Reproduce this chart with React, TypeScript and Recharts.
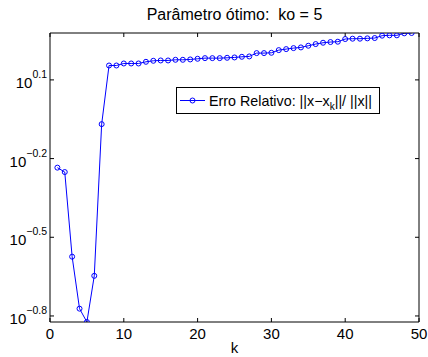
import React from 'react';
import { LineChart, Line, XAxis, YAxis } from 'recharts';

const kValues = [
  1, 2, 3, 4, 5, 6, 7, 8, 9, 10, 11, 12, 13, 14, 15, 16, 17, 18, 19, 20, 21, 22, 23, 24, 25,
  26, 27, 28, 29, 30, 31, 32, 33, 34, 35, 36, 37, 38, 39, 40, 41, 42, 43, 44, 45, 46, 47, 48, 49,
];

const erroRelativo = [
  0.5827, 0.5606, 0.2667, 0.169, 0.1503, 0.2254, 0.8538, 1.4287, 1.4287, 1.4543,
  1.4543, 1.4543, 1.4757, 1.4889, 1.4933, 1.4933, 1.502, 1.502, 1.5065, 1.5155,
  1.5241, 1.5241, 1.5241, 1.5287, 1.5333, 1.5422, 1.5468, 1.5929, 1.5929, 1.5973,
  1.6352, 1.6499, 1.6644, 1.6744, 1.6993, 1.7242, 1.7446, 1.7551, 1.7604, 1.8022,
  1.8076, 1.8076, 1.8131, 1.8181, 1.8562, 1.8617, 1.8617, 1.8946, 1.9003,
];

const xTicks = [0, 10, 20, 30, 40, 50];
const yTickExponents = [-0.8, -0.5, -0.2, 0.1];
const yTicks = yTickExponents.map((e) => Math.pow(10, e));

const titleText = 'Parâmetro ótimo:  ko = 5';
const xLabel = 'k';

const data = kValues.map((k, i) => ({ k, err: erroRelativo[i] }));
const yMin = Math.min(...erroRelativo);
const yMax = Math.max(...erroRelativo);

const FONT = '"Liberation Sans", Arial, Helvetica, sans-serif';
const BLUE = '#0000ff';

const fmtExp = (v: number) => {
  const e = Math.log10(v);
  const s = (Math.round(e * 10) / 10).toFixed(1);
  return s.replace('-', '\u2212');
};

const XTick = (props: any) => {
  const { x, y, payload } = props;
  return (
    <text x={x} y={y + 17} textAnchor="middle" fontSize={15} fontFamily={FONT} fill="#000">
      {payload.value}
    </text>
  );
};

const YTick = (props: any) => {
  const { x, y, payload } = props;
  return (
    <text x={x} y={y + 8} textAnchor="end" fontSize={15} fontFamily={FONT} fill="#000">
      <tspan>10</tspan>
      <tspan dy={-10} fontSize={10.5}>
        {fmtExp(payload.value)}
      </tspan>
    </text>
  );
};

const EmptyTick = () => <g />;

export default function App() {
  return (
    <div style={{ position: 'absolute', left: 0, top: 0, width: 428, height: 357, background: '#fff' }}>
      <LineChart
        width={428}
        height={357}
        data={data}
        margin={{ top: 0, right: 0, bottom: 0, left: 0 }}
      >
        <XAxis
          xAxisId="bottom"
          dataKey="k"
          type="number"
          domain={[0, 50]}
          ticks={xTicks}
          allowDataOverflow
          height={35}
          tickSize={-4}
          tickMargin={4}
          stroke="#000"
          tick={<XTick />}
        />
        <XAxis
          xAxisId="top"
          orientation="top"
          dataKey="k"
          type="number"
          domain={[0, 50]}
          ticks={xTicks}
          allowDataOverflow
          height={33}
          tickSize={-4}
          stroke="#000"
          tick={<EmptyTick />}
        />
        <YAxis
          yAxisId="left"
          type="number"
          scale="log"
          domain={[yMin, yMax]}
          ticks={yTicks}
          allowDataOverflow
          width={50}
          tickSize={-4}
          tickMargin={7}
          stroke="#000"
          tick={<YTick />}
        />
        <YAxis
          yAxisId="right"
          orientation="right"
          type="number"
          scale="log"
          domain={[yMin, yMax]}
          ticks={yTicks}
          allowDataOverflow
          width={9}
          tickSize={-4}
          stroke="#000"
          tick={<EmptyTick />}
        />
        <Line
          xAxisId="bottom"
          yAxisId="left"
          dataKey="err"
          name="Erro Relativo"
          stroke={BLUE}
          strokeWidth={1}
          dot={{ r: 2.5, stroke: BLUE, strokeWidth: 1, fill: 'none' }}
          activeDot={false}
          isAnimationActive={false}
        />
      </LineChart>
      <svg
        width={428}
        height={357}
        style={{ position: 'absolute', left: 0, top: 0, pointerEvents: 'none' }}
      >
        <text x={234.5} y={20} textAnchor="middle" fontSize={16} fontFamily={FONT} fill="#000" style={{ whiteSpace: 'pre' }}>
          {titleText}
        </text>
        <text x={234.5} y={353} textAnchor="middle" fontSize={15} fontFamily={FONT} fill="#000">
          {xLabel}
        </text>
        <g transform="translate(176,87)">
          <rect x={0.5} y={0.5} width={203} height={26} fill="#fff" stroke="#000" strokeWidth={1} />
          <line x1={4} x2={29} y1={13.5} y2={13.5} stroke={BLUE} strokeWidth={1} />
          <circle cx={16.5} cy={13.5} r={2.5} fill="none" stroke={BLUE} strokeWidth={1} />
          <text x={33} y={18.5} fontSize={14.3} fontFamily={FONT} fill="#000">
            <tspan>Erro Relativo: ||x{'\u2212'}x</tspan>
            <tspan dy={4} fontSize={10}>k</tspan>
            <tspan dy={-4}>||/ ||x||</tspan>
          </text>
        </g>
      </svg>
    </div>
  );
}
